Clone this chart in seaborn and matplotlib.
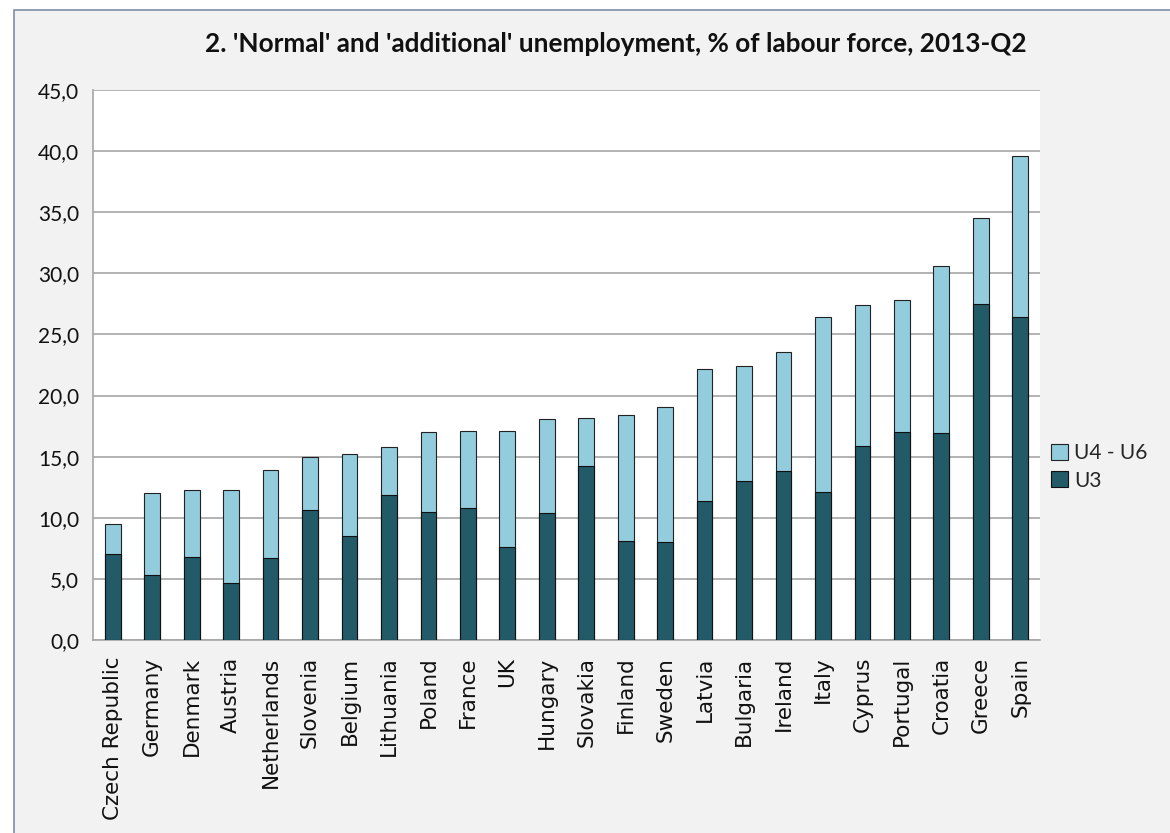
import matplotlib
matplotlib.use("Agg")
import matplotlib.pyplot as plt
from matplotlib.patches import Rectangle, Patch
import seaborn as sns
import pandas as pd

countries = ["Czech Republic", "Germany", "Denmark", "Austria", "Netherlands",
             "Slovenia", "Belgium", "Lithuania", "Poland", "France", "UK",
             "Hungary", "Slovakia", "Finland", "Sweden", "Latvia", "Bulgaria",
             "Ireland", "Italy", "Cyprus", "Portugal", "Croatia", "Greece", "Spain"]
u3 = [7.0, 5.3, 6.8, 4.7, 6.7, 10.6, 8.5, 11.9, 10.5, 10.8, 7.6, 10.4,
      14.2, 8.1, 8.0, 11.4, 13.0, 13.8, 12.1, 15.9, 17.0, 16.9, 27.5, 26.4]
u4_u6 = [2.5, 6.7, 5.5, 7.6, 7.2, 4.4, 6.7, 3.9, 6.5, 6.3, 9.5, 7.7,
         4.0, 10.3, 11.1, 10.8, 9.4, 9.8, 14.3, 11.5, 10.8, 13.7, 7.0, 13.2]
yticks = [0, 5, 10, 15, 20, 25, 30, 35, 40, 45]

df = pd.DataFrame({"country": countries, "U3": u3, "U4 - U6": u4_u6})
df["total"] = df["U3"] + df["U4 - U6"]

dark = "#225a68"
light = "#93cddd"

sns.set_theme(style="white")
plt.rcParams["font.family"] = ["Lato", "DejaVu Sans"]

fig = plt.figure(figsize=(11.7, 8.33), dpi=100)
fig.patch.set_facecolor("white")
# chart frame behind everything
fig.patches.append(Rectangle((14 / 1170, -0.01), 1.0, 1 - 10 / 833 + 0.01,
                             transform=fig.transFigure, facecolor="#f2f2f2",
                             edgecolor="#7f8fa6", linewidth=1.2, zorder=-10))

ax = fig.add_axes([93 / 1170, 1 - 640 / 833, 947 / 1170, 550 / 833])
ax.set_zorder(1)
ax.set_facecolor("white")

sns.barplot(data=df, x="country", y="total", color=light, width=0.4,
            edgecolor="#222222", linewidth=0.8, saturation=1, ax=ax, zorder=3)
sns.barplot(data=df, x="country", y="U3", color=dark, width=0.4,
            edgecolor="#111111", linewidth=0.8, saturation=1, ax=ax, zorder=4)

ax.set_xlim(-0.5, len(countries) - 0.5)
ax.set_ylim(0, 45)
ax.set_yticks(yticks)
ax.set_yticklabels([f"{v:.1f}".replace(".", ",") for v in yticks], fontsize=15)
ax.yaxis.grid(True, color="#a6a6a6", linewidth=1.2, zorder=0)
ax.set_axisbelow(True)
ax.set_xlabel("")
ax.set_ylabel("")

ax.set_xticks(range(len(countries)))
ax.set_xticklabels(countries, rotation=90, fontsize=15.5,
                   family="DejaVu Sans", color="#111111")
ax.set_xticks([i + 0.5 for i in range(-1, len(countries))], minor=True)
ax.tick_params(axis="x", which="major", length=0, pad=12)
ax.tick_params(axis="x", which="minor", length=7, color="#a6a6a6", width=1.2,
               direction="out")
ax.tick_params(axis="y", which="major", length=7, color="#a6a6a6", width=1.2,
               direction="out", pad=3, labelcolor="#111111")

for side in ["top", "right"]:
    ax.spines[side].set_visible(False)
ax.spines["left"].set_color("#a6a6a6")
ax.spines["left"].set_linewidth(1.2)
ax.spines["bottom"].set_color("#a6a6a6")
ax.spines["bottom"].set_linewidth(1.2)

fig.text(0.526, 1 - 44 / 833,
         "2. 'Normal' and 'additional' unemployment, % of labour force, 2013-Q2",
         ha="center", va="center", fontsize=18.8, fontweight="bold", color="#111111")

handles = [Patch(facecolor=light, edgecolor="#222222", linewidth=0.8, label="U4 - U6"),
           Patch(facecolor=dark, edgecolor="#111111", linewidth=0.8, label="U3")]
fig.legend(handles=handles, loc="center left", bbox_to_anchor=(1043 / 1170, 1 - 467 / 833),
           frameon=False, fontsize=15, handlelength=0.8, handleheight=0.8,
           handletextpad=0.3, labelspacing=0.35, borderaxespad=0)

fig.savefig("out.png", dpi=100, facecolor=fig.get_facecolor())
